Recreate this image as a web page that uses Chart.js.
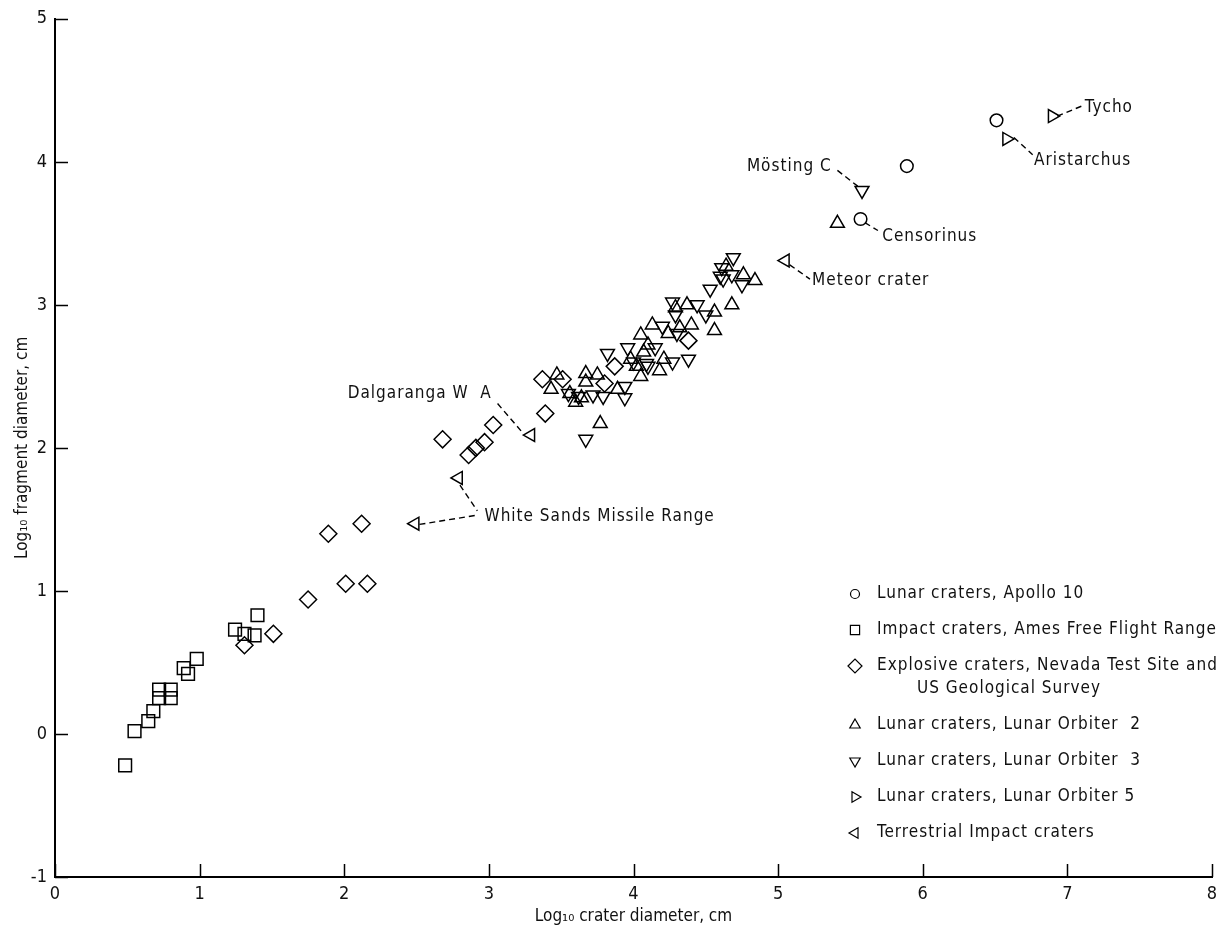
<!DOCTYPE html>
<html>
<head>
<meta charset="utf-8">
<script src="https://cdn.jsdelivr.net/npm/chart.js@4.4.1/dist/chart.umd.min.js"></script>
<style>
  body { margin: 0; background: #fff; }
  canvas { display: block; }
</style>
</head>
<body>
<canvas id="chart" width="1225" height="934"></canvas>
<script>
const FONT = "'DejaVu Sans Condensed', 'Liberation Sans Narrow', 'DejaVu Sans', sans-serif";

// axis ranges / tick labels
const xTicks = [0, 1, 2, 3, 4, 5, 6, 7, 8];
const yTicks = [-1, 0, 1, 2, 3, 4, 5];

// [log10 crater diameter, log10 fragment diameter]
const apollo10 = [[5.57, 3.60], [5.89, 3.97], [6.51, 4.29]];

const amesRange = [
  [0.485, -0.22], [0.55, 0.02], [0.645, 0.09], [0.68, 0.16], [0.72, 0.31],
  [0.72, 0.25], [0.80, 0.31], [0.80, 0.25], [0.89, 0.46], [0.92, 0.42],
  [0.98, 0.525], [1.245, 0.73], [1.31, 0.70], [1.38, 0.69], [1.40, 0.83]
];

const explosive = [
  [1.31, 0.62], [1.51, 0.70], [1.75, 0.94], [2.01, 1.05], [2.16, 1.05],
  [1.89, 1.40], [2.12, 1.47], [2.68, 2.06], [2.86, 1.95], [2.91, 2.00],
  [2.97, 2.04], [3.03, 2.16], [3.39, 2.24], [3.37, 2.48], [3.51, 2.48],
  [3.80, 2.45], [3.87, 2.57], [4.38, 2.75]
];

const orbiter2 = [
  [3.43, 2.41], [3.47, 2.51], [3.56, 2.38], [3.60, 2.32], [3.64, 2.35],
  [3.67, 2.52], [3.67, 2.46], [3.75, 2.51], [3.77, 2.17], [3.89, 2.41],
  [3.98, 2.62], [4.02, 2.57], [4.05, 2.50], [4.05, 2.79], [4.07, 2.67],
  [4.10, 2.72], [4.13, 2.86], [4.18, 2.54], [4.21, 2.62], [4.24, 2.80],
  [4.29, 2.98], [4.32, 2.84], [4.37, 3.00], [4.40, 2.86], [4.56, 2.95],
  [4.56, 2.82], [4.64, 3.27], [4.68, 3.00], [4.76, 3.21], [4.84, 3.17],
  [5.41, 3.57]
];

const orbiter3 = [
  [3.55, 2.38], [3.62, 2.36], [3.67, 2.06], [3.72, 2.37], [3.79, 2.36],
  [3.82, 2.66], [3.94, 2.43], [3.94, 2.35], [3.96, 2.70], [4.00, 2.60],
  [4.09, 2.59], [4.10, 2.57], [4.15, 2.70], [4.20, 2.85], [4.27, 3.02],
  [4.27, 2.60], [4.29, 2.93], [4.30, 2.80], [4.38, 2.62], [4.44, 3.00],
  [4.50, 2.93], [4.53, 3.11], [4.60, 3.20], [4.61, 3.26], [4.62, 3.18],
  [4.68, 3.21], [4.69, 3.33], [4.75, 3.14], [5.58, 3.80]
];

const orbiter5 = [[6.58, 4.16], [6.895, 4.32]];

const terrestrial = [[2.49, 1.47], [2.79, 1.79], [3.29, 2.09], [5.05, 3.31]];

// named craters: label anchor and dashed leader lines, in data units
const notes = [
  { text: "Tycho", at: [7.12, 4.38], align: "left", lines: [[[6.93, 4.32], [7.10, 4.39]]] },
  { text: "Aristarchus", at: [6.77, 4.01], align: "left", lines: [[[6.63, 4.17], [6.76, 4.05]]] },
  { text: "Mösting C", at: [5.37, 3.97], align: "right", lines: [[[5.41, 3.94], [5.55, 3.83]]] },
  { text: "Censorinus", at: [5.72, 3.48], align: "left", lines: [[[5.60, 3.575], [5.69, 3.52]]] },
  { text: "Meteor crater", at: [5.235, 3.17], align: "left", lines: [[[5.08, 3.28], [5.22, 3.18]]] },
  { text: "Dalgaranga W  A", at: [3.02, 2.38], align: "right", lines: [[[3.06, 2.31], [3.23, 2.11]]] },
  { text: "White Sands Missile Range", at: [2.97, 1.52], align: "left",
    lines: [[[2.80, 1.74], [2.92, 1.56]], [[2.52, 1.465], [2.92, 1.53]]] }
];

const toXY = arr => arr.map(([x, y]) => ({ x, y }));

const series = [
  { label: "Lunar craters, Apollo 10", data: apollo10, style: "circle", rot: 0, r: 6.3, lr: 4.5 },
  { label: "Impact craters, Ames Free Flight Range", data: amesRange, style: "rect", rot: 0, r: 9, lr: 6.5 },
  { label: "Explosive craters, Nevada Test Site and\nUS Geological Survey", data: explosive, style: "rectRot", rot: 0, r: 8.5, lr: 7 },
  { label: "Lunar craters, Lunar Orbiter  2", data: orbiter2, style: "triangle", rot: 0, r: 8, lr: 6 },
  { label: "Lunar craters, Lunar Orbiter  3", data: orbiter3, style: "triangle", rot: 180, r: 8, lr: 6 },
  { label: "Lunar craters, Lunar Orbiter 5", data: orbiter5, style: "triangle", rot: 90, r: 7.5, lr: 6 },
  { label: "Terrestrial Impact craters", data: terrestrial, style: "triangle", rot: -90, r: 7.5, lr: 6 }
];

const datasets = series.map(s => ({
  label: s.label,
  data: toXY(s.data),
  pointStyle: s.style,
  pointRotation: s.rot,
  pointRadius: s.r,
  pointHoverRadius: s.r,
  pointBorderColor: "#000",
  pointBackgroundColor: "rgba(0,0,0,0)",
  pointBorderWidth: 1.5,
  showLine: false,
  legendRadius: s.lr
}));

// tick marks that point into the plot
const inwardTicks = {
  id: "inwardTicks",
  afterDraw(chart) {
    const { ctx, chartArea: a, scales: { x, y } } = chart;
    ctx.save();
    ctx.strokeStyle = "#000";
    ctx.lineWidth = 1.5;
    ctx.beginPath();
    xTicks.forEach(v => {
      const px = Math.round(x.getPixelForValue(v)) + 0.5;
      ctx.moveTo(px, a.bottom);
      ctx.lineTo(px, a.bottom - 13);
    });
    yTicks.forEach(v => {
      const py = Math.round(y.getPixelForValue(v)) + 0.5;
      ctx.moveTo(a.left, py);
      ctx.lineTo(a.left + 13, py);
    });
    ctx.stroke();
    ctx.restore();
  }
};

const craterNotes = {
  id: "craterNotes",
  afterDatasetsDraw(chart) {
    const { ctx, scales: { x, y } } = chart;
    ctx.save();
    ctx.strokeStyle = "#000";
    ctx.lineWidth = 1.4;
    ctx.setLineDash([6, 4]);
    ctx.fillStyle = "#111";
    ctx.font = "17px " + FONT;
    ctx.letterSpacing = "1px";
    ctx.textBaseline = "middle";
    notes.forEach(n => {
      n.lines.forEach(([p, q]) => {
        ctx.beginPath();
        ctx.moveTo(x.getPixelForValue(p[0]), y.getPixelForValue(p[1]));
        ctx.lineTo(x.getPixelForValue(q[0]), y.getPixelForValue(q[1]));
        ctx.stroke();
      });
      ctx.textAlign = n.align;
      ctx.fillText(n.text, x.getPixelForValue(n.at[0]), y.getPixelForValue(n.at[1]));
    });
    ctx.restore();
  }
};

// legend drawn inside the plot, lower right
const plotLegend = {
  id: "plotLegend",
  afterDraw(chart) {
    const { ctx, chartArea: a } = chart;
    const symX = a.right - 357;
    const textX = a.right - 335;
    let rowY = a.bottom - 283;
    ctx.save();
    ctx.font = "17px " + FONT;
    ctx.letterSpacing = "1px";
    ctx.textBaseline = "middle";
    ctx.textAlign = "left";
    chart.data.datasets.forEach(ds => {
      ctx.strokeStyle = "#000";
      ctx.fillStyle = "rgba(0,0,0,0)";
      ctx.lineWidth = 1.2;
      Chart.helpers.drawPoint(ctx, {
        pointStyle: ds.pointStyle,
        rotation: ds.pointRotation,
        radius: ds.legendRadius,
        borderWidth: 1.2
      }, symX, rowY);
      ctx.fillStyle = "#111";
      const lines = ds.label.split("\n");
      ctx.fillText(lines[0], textX, rowY);
      for (let i = 1; i < lines.length; i++) {
        rowY += 23;
        ctx.fillText(lines[i], textX + 40, rowY);
      }
      rowY += 36;
    });
    ctx.restore();
  }
};

new Chart(document.getElementById("chart"), {
  type: "scatter",
  data: { datasets },
  options: {
    responsive: false,
    animation: false,
    layout: { padding: { top: 16, right: 13, left: 0, bottom: 0 } },
    plugins: {
      legend: { display: false },
      tooltip: { enabled: false }
    },
    scales: {
      x: {
        type: "linear",
        min: 0,
        max: 8,
        afterFit: s => { s.height = 57; },
        afterBuildTicks: s => { s.ticks = xTicks.map(v => ({ value: v })); },
        grid: { display: false, drawTicks: false },
        border: { display: true, color: "#000", width: 2 },
        ticks: { color: "#111", padding: 7, font: { family: FONT, size: 18 } },
        title: {
          display: true,
          text: "Log₁₀ crater diameter, cm",
          color: "#111",
          padding: { top: 0, bottom: 7 },
          font: { family: FONT, size: 17 }
        }
      },
      y: {
        type: "linear",
        min: -1,
        max: 5,
        afterFit: s => { s.width = 55; },
        afterBuildTicks: s => { s.ticks = yTicks.map(v => ({ value: v })); },
        grid: { display: false, drawTicks: false },
        border: { display: true, color: "#000", width: 2 },
        ticks: { color: "#111", padding: 8, font: { family: FONT, size: 18 } },
        title: {
          display: true,
          text: "Log₁₀ fragment diameter, cm",
          color: "#111",
          padding: { top: 12, bottom: 0 },
          font: { family: FONT, size: 17 }
        }
      }
    }
  },
  plugins: [inwardTicks, craterNotes, plotLegend]
});
</script>
</body>
</html>
